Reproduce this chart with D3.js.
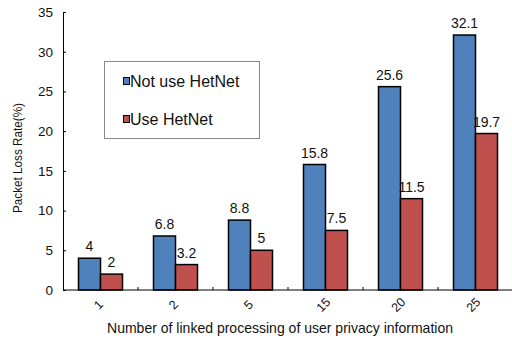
<!DOCTYPE html>
<html>
<head>
<meta charset="utf-8">
<script src="https://cdn.jsdelivr.net/npm/d3@7"></script>
<style>
  html, body { margin: 0; padding: 0; background: #fff; }
  svg { display: block; font-family: "Liberation Sans", Arial, sans-serif; }
</style>
</head>
<body>
<svg id="chart" width="512" height="339"></svg>
<script>
// Packet loss rate by number of linked processing steps
const categories = ["1", "2", "5", "15", "20", "25"];
const notUseHetNet = [4, 6.8, 8.8, 15.8, 25.6, 32.1];
const useHetNet = [2, 3.2, 5, 7.5, 11.5, 19.7];
const seriesNames = ["Not use HetNet", "Use HetNet"];
const seriesColors = ["#4f81bd", "#c0504d"];
const yTicks = [0, 5, 10, 15, 20, 25, 30, 35];

const svg = d3.select("#chart");
const plotLeft = 63, plotRight = 513, plotTop = 12, plotBottom = 290;

const x = d3.scaleBand().domain(categories).range([plotLeft, plotRight]);
const y = d3.scaleLinear().domain([0, 35]).range([plotBottom, plotTop]);
const barW = 22;

const series = [notUseHetNet, useHetNet];

// bars with value labels
series.forEach((vals, si) => {
  const g = svg.append("g");
  g.selectAll("rect").data(categories).join("rect")
    .attr("x", (c) => x(c) + x.bandwidth() / 2 - barW + si * barW)
    .attr("y", (c, i) => y(vals[i]))
    .attr("width", barW)
    .attr("height", (c, i) => y(0) - y(vals[i]))
    .attr("fill", seriesColors[si])
    .attr("stroke", "#000")
    .attr("stroke-width", 1.5);
  g.selectAll("text").data(categories).join("text")
    .attr("x", (c) => x(c) + x.bandwidth() / 2 - barW / 2 + si * barW)
    .attr("y", (c, i) => y(vals[i]) - 7)
    .attr("text-anchor", "middle")
    .attr("font-size", 14)
    .attr("fill", "#111")
    .text((c, i) => vals[i]);
});

// y axis
const yAxis = d3.axisLeft(y).tickValues(yTicks).tickSizeInner(-3).tickSizeOuter(0).tickPadding(10);
const ya = svg.append("g").attr("transform", `translate(${plotLeft},0)`).call(yAxis);
ya.select(".domain").attr("stroke", "#000");
ya.selectAll("line").attr("stroke", "#000");
ya.selectAll("text").attr("font-size", 13.5).attr("fill", "#111").attr("font-family", "Liberation Sans, Arial, sans-serif");

// x axis: baseline, separators between groups, rotated labels
svg.append("line").attr("x1", plotLeft).attr("x2", plotRight).attr("y1", plotBottom).attr("y2", plotBottom)
  .attr("stroke", "#000").attr("stroke-width", 1);
svg.append("g").selectAll("line").data(categories).join("line")
  .attr("x1", (c) => x(c) + x.bandwidth()).attr("x2", (c) => x(c) + x.bandwidth())
  .attr("y1", plotBottom).attr("y2", plotBottom - 3)
  .attr("stroke", "#000");
svg.append("g").selectAll("text").data(categories).join("text")
  .attr("transform", (c) => `translate(${x(c) + x.bandwidth() / 2 - 2},${plotBottom + 15}) rotate(-45)`)
  .attr("text-anchor", "middle")
  .attr("dominant-baseline", "central")
  .attr("font-size", 12.5)
  .attr("fill", "#111")
  .text((c) => c);

// axis titles
svg.append("text")
  .attr("x", 280).attr("y", 333)
  .attr("text-anchor", "middle")
  .attr("font-size", 14.5)
  .attr("textLength", 346)
  .attr("lengthAdjust", "spacingAndGlyphs")
  .attr("fill", "#111")
  .text("Number of linked processing of user privacy information");
svg.append("text")
  .attr("transform", `translate(22,158) rotate(-90)`)
  .attr("text-anchor", "middle")
  .attr("font-size", 12)
  .attr("textLength", 110)
  .attr("lengthAdjust", "spacingAndGlyphs")
  .attr("fill", "#111")
  .text("Packet Loss Rate(%)");

// legend
const lg = svg.append("g");
lg.append("rect").attr("x", 104.5).attr("y", 61.5).attr("width", 155).attr("height", 77)
  .attr("fill", "#fff").attr("stroke", "#888").attr("stroke-width", 1);
seriesNames.forEach((name, i) => {
  const cy = 81 + i * 38;
  lg.append("rect").attr("x", 123.5).attr("y", cy - 3.5).attr("width", 6).attr("height", 7)
    .attr("fill", seriesColors[i]).attr("stroke", "#000").attr("stroke-width", 1);
  lg.append("text").attr("x", 130).attr("y", cy + 5.5).attr("font-size", 16)
    .attr("fill", "#111").text(name);
});
</script>
</body>
</html>
